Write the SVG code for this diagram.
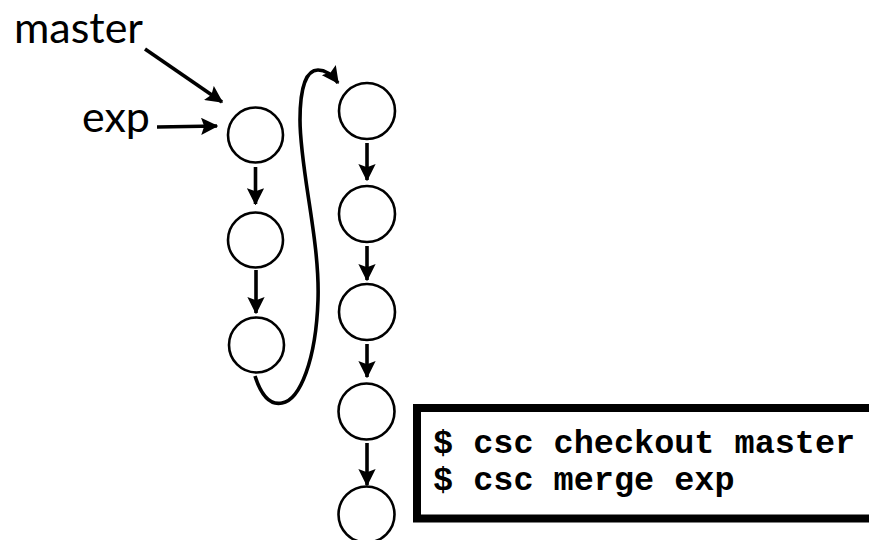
<svg xmlns="http://www.w3.org/2000/svg" width="869" height="540" viewBox="0 0 869 540">
<defs>
<style>
.node{fill:#fff;stroke:#000;stroke-width:2.6}
.edge{fill:none;stroke:#000;stroke-width:3.6;marker-end:url(#ah)}
.lbl{font-family:Lato,"Open Sans",sans-serif;font-size:43px;fill:#000}
.cmd{font-family:"Liberation Mono","Courier New",monospace;font-weight:bold;font-size:33.5px;fill:#000}
</style>
<marker id="ah" markerWidth="4.8" markerHeight="4.8" refX="4.6" refY="2.5" orient="auto" markerUnits="strokeWidth" viewBox="0 0 5 5">
<path d="M0,0 L5,2.5 L0,5 L0.9,2.5 Z" fill="#000"/>
</marker>
</defs>
<rect width="869" height="540" fill="#fff"/>
<g id="labels">
<text class="lbl" x="14" y="42.5">master</text>
<text class="lbl" x="82" y="132">exp</text>
</g>
<g id="n1"><circle class="node" cx="255.5" cy="135" r="27.5"/></g>
<g id="n2"><circle class="node" cx="255.5" cy="240" r="27.5"/></g>
<g id="n3"><circle class="node" cx="256.5" cy="345" r="27.5"/></g>
<g id="m1"><circle class="node" cx="367" cy="111" r="28"/></g>
<g id="m2"><circle class="node" cx="367" cy="214" r="28"/></g>
<g id="m3"><circle class="node" cx="367" cy="312" r="28"/></g>
<g id="m4"><circle class="node" cx="366.5" cy="411.5" r="28"/></g>
<g id="m5"><circle class="node" cx="366.5" cy="514.5" r="28"/></g>
<g id="connectors">
<path class="edge" d="M145,49 L222,102"/>
<path class="edge" d="M157,127 L217,126"/>
<path class="edge" d="M255.5,167 L255.5,204"/>
<path class="edge" d="M256,270 L256,313"/>
<path class="edge" d="M367,143 L367,180"/>
<path class="edge" d="M367,246 L367,280"/>
<path class="edge" d="M367,344 L367,377"/>
<path class="edge" d="M367,443 L367,485"/>
<path class="edge" d="M255,376 C262,398 272,405 282,403 C300,400 316,360 318,300 C320,240 300,170 300,120 C300,88 306,70 318,70 C327,70 333,76 338,83"/>
</g>
<g id="console">
<rect x="417" y="408" width="470" height="110.5" fill="#fff" stroke="#000" stroke-width="8"/>
<text class="cmd" x="433" y="453">$ csc checkout master</text>
<text class="cmd" x="433" y="490">$ csc merge exp</text>
</g>
</svg>
